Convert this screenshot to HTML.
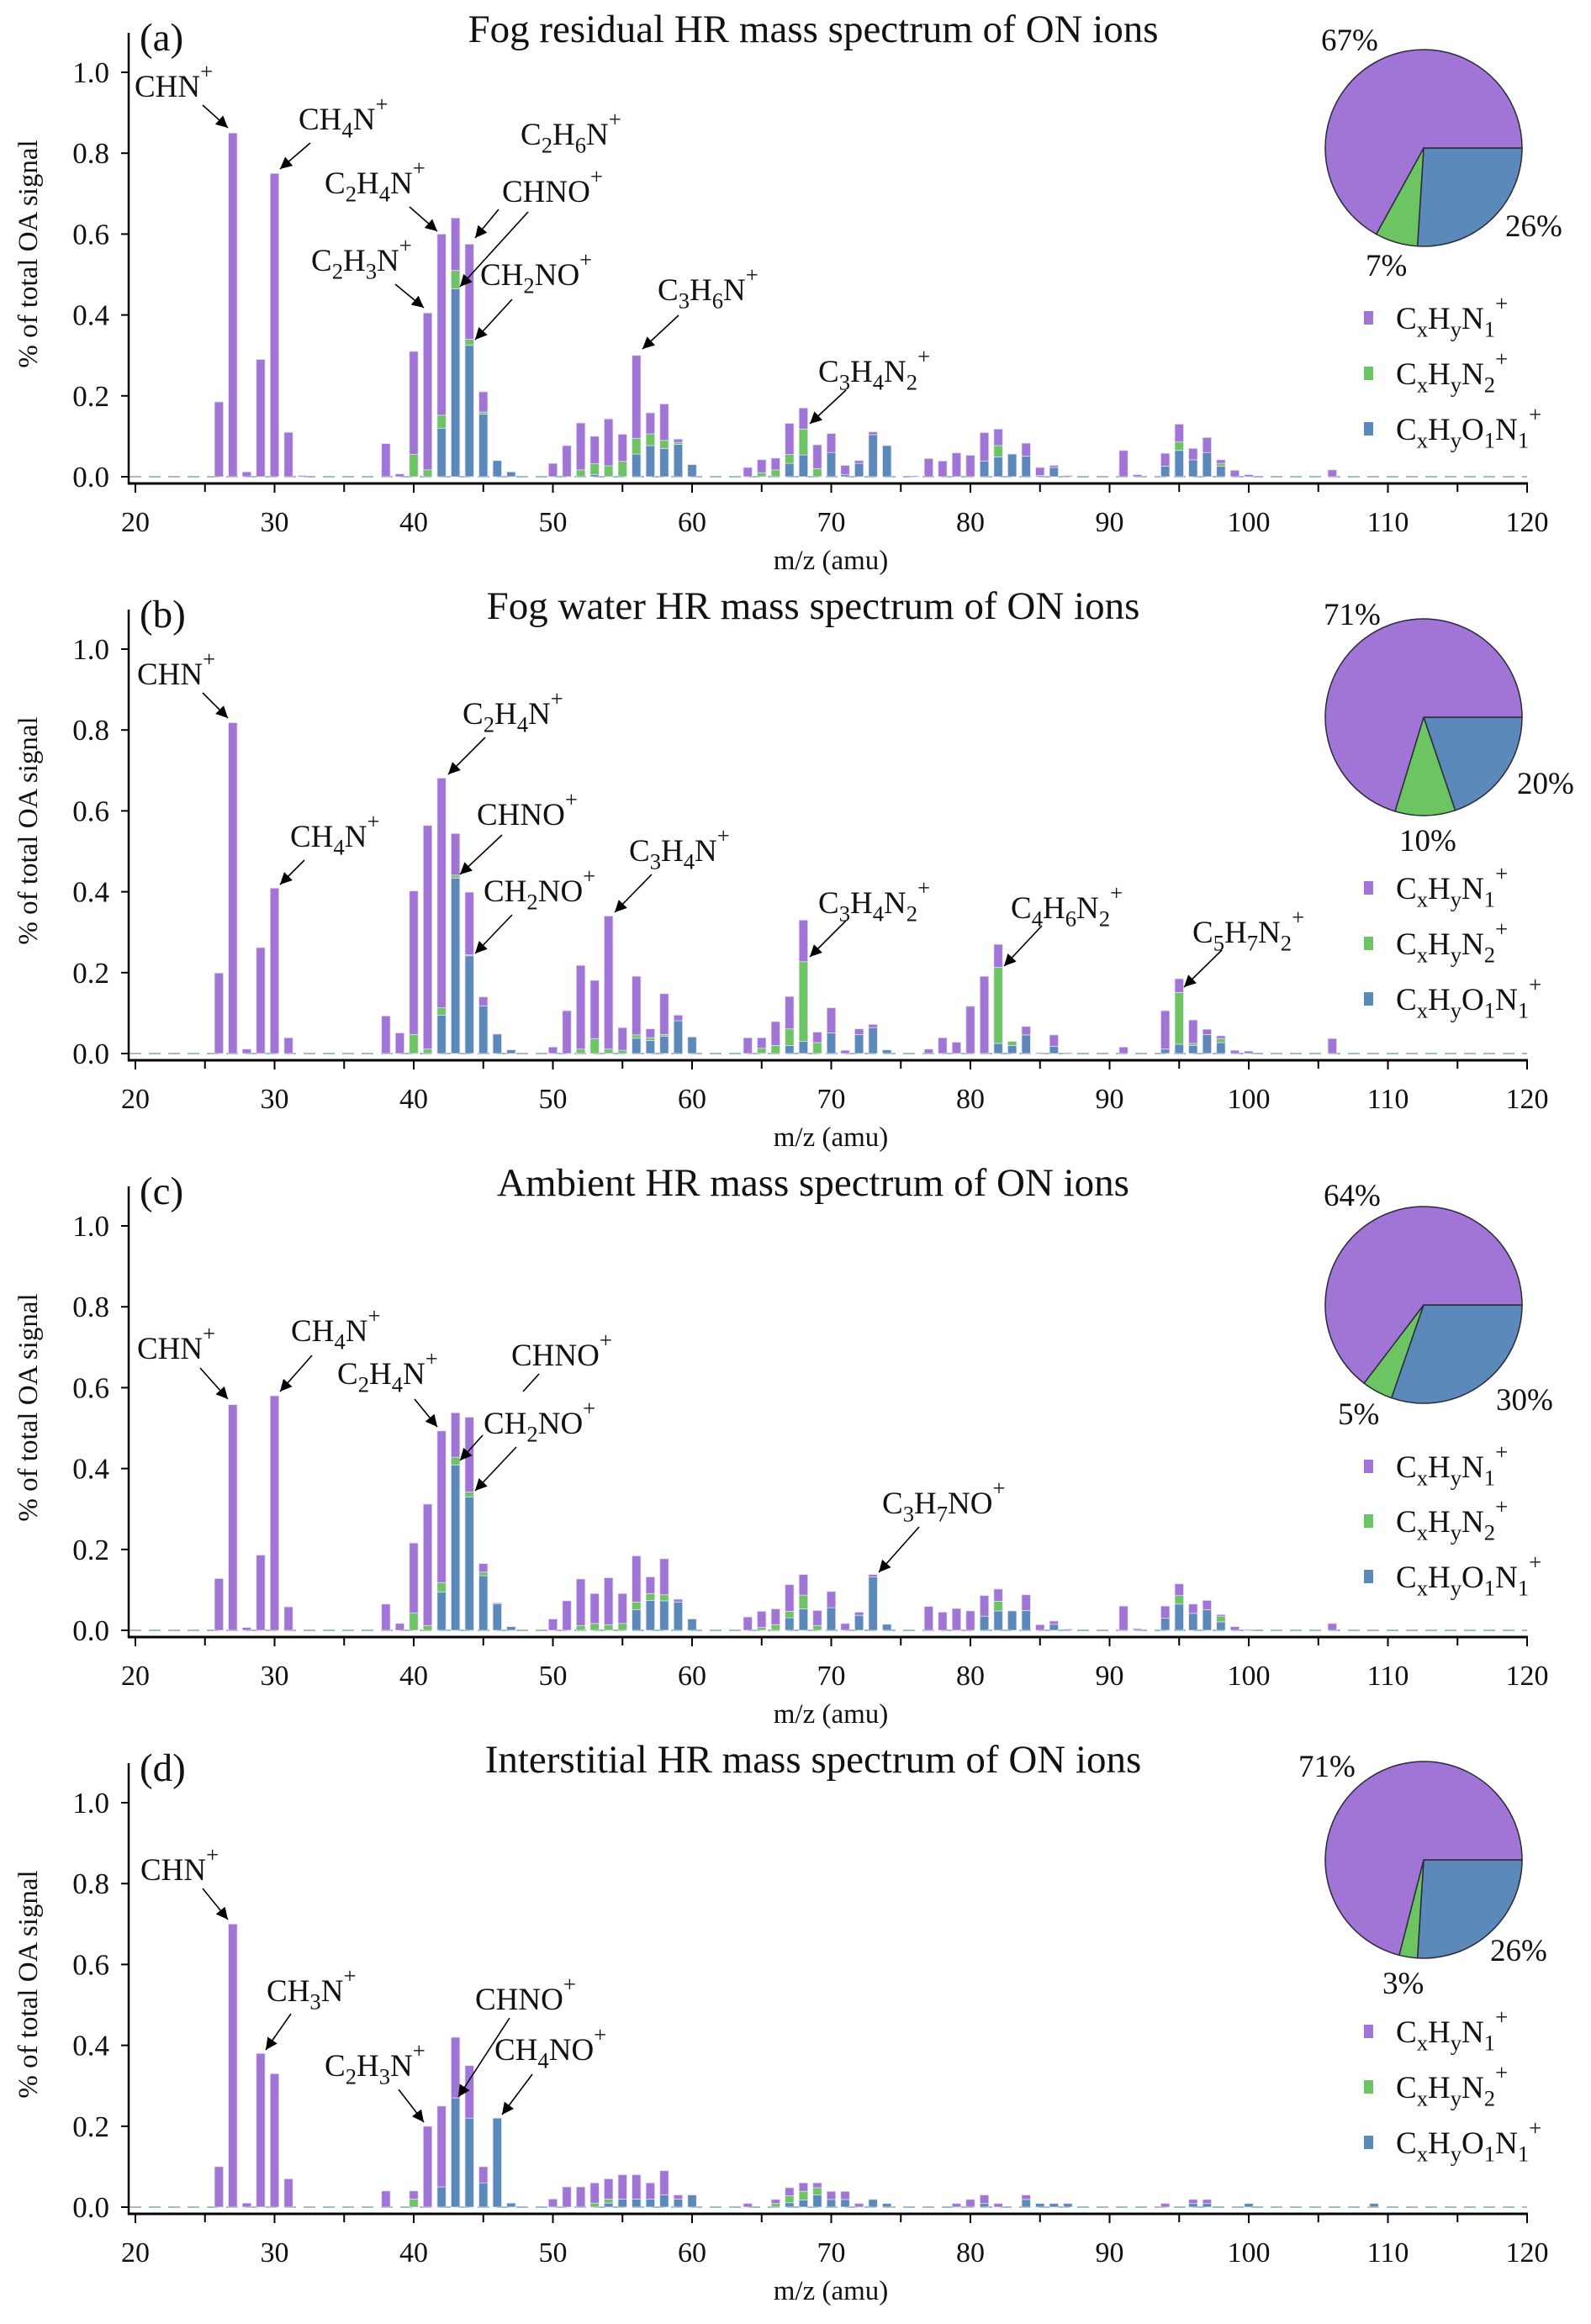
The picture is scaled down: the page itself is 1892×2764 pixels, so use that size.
<!DOCTYPE html>
<html><head><meta charset="utf-8"><title>ON ions HR mass spectra</title>
<style>
html,body{margin:0;padding:0;background:#fff;}
svg{display:block;font-family:"Liberation Serif","DejaVu Serif",serif;}
</style></head>
<body>
<svg id="chart" xmlns="http://www.w3.org/2000/svg" width="1892" height="2764" viewBox="0 0 1892 2764">
<rect x="0" y="0" width="1892" height="2764" fill="#fff"/>
</svg>
<script>
// ---------- DATA ----------
const panelLetters = ["(a)","(b)","(c)","(d)"];
const panelTitles = ["Fog residual HR mass spectrum of ON ions","Fog water HR mass spectrum of ON ions","Ambient HR mass spectrum of ON ions","Interstitial HR mass spectrum of ON ions"];
const xTicks = [20,30,40,50,60,70,80,90,100,110,120];
const xMinorTicks = [25,35,45,55,65,75,85,95,105,115];
const yTicks = [0,0.2,0.4,0.6,0.8,1.0];
const yTickLabels = ["0.0","0.2","0.4","0.6","0.8","1.0"];

// panel (a) Fog residual
const mzA =     [26,27,28,29,30,31,32,38,39,40,41,42,43,44,45,46,47,50,51,52,53,54,55,56,57,58,59,60,64,65,66,67,68,69,70,71,72,73,74,76,77,78,79,80,81,82,83,84,85,86,87,91,92,94,95,96,97,98,99,100,106];
const blueA =   [0,0,0,0,0,0,0,0,0,0,0,.12,.465,.325,.155,.04,.012,0,0,0,.005,0,0,.056,.077,.07,.08,.03,0,0,0,.033,.054,0,.06,.005,.033,.104,.077,0,0,0,0,0,.039,.049,.056,.051,.003,.023,0,0,0,.026,.065,.042,.06,.026,0,0,0];
const greenA =  [0,0,0,0,0,0,0,0,0,.055,.017,.032,.045,.015,.005,0,0,0,0,.017,.027,.027,.038,.039,.029,.02,.005,0,0,.01,.017,.022,.064,.02,0,0,0,0,0,0,0,0,0,0,0,.028,0,0,0,0,0,0,0,0,.021,0,0,.007,0,0,0];
const purpleA = [.185,.85,.012,.29,.75,.11,.003,.082,.007,.255,.388,.448,.13,.235,.05,0,0,.033,.077,.116,.068,.116,.067,.205,.052,.09,.008,0,.023,.032,.029,.077,.052,.059,.047,.023,.007,.007,0,.002,.045,.039,.059,.053,.07,.041,0,.032,.02,.005,.003,.065,.005,.032,.044,.028,.037,.009,.016,.005,.017];

// panel (b) Fog water
const mzB =     [26,27,28,29,30,31,38,39,40,41,42,43,44,45,46,47,50,51,52,53,54,55,56,57,58,59,60,64,65,66,67,68,69,70,71,72,73,74,77,78,79,80,81,82,83,84,85,86,87,91,94,95,96,97,98,99,100,106];
const blueB =   [0,0,0,0,0,0,0,0,0,0,.095,.434,.242,.118,.048,.009,0,0,0,0,0,0,.038,.032,.043,.081,.041,0,0,0,.02,.03,0,.051,0,.047,.064,.009,0,0,0,0,0,.025,.02,.046,0,.018,0,0,.011,.023,.02,.047,.027,0,0,0];
const greenB =  [0,0,0,0,0,0,0,0,.047,.011,.018,.007,.002,0,0,0,0,0,.011,.037,.011,.008,.008,.007,.004,0,0,0,.013,.02,.041,.197,.027,0,0,0,0,0,0,0,0,0,0,.188,.01,0,0,0,0,0,0,.128,.005,0,.01,0,0,0];
const purpleB = [.199,.818,.011,.262,.409,.039,.093,.051,.355,.553,.568,.103,.155,.022,0,0,.016,.106,.207,.144,.329,.056,.145,.022,.101,.014,0,.039,.026,.059,.08,.103,.026,.062,.008,.014,.008,0,.011,.039,.028,.117,.191,.057,0,.021,.002,.028,.002,.016,.095,.034,.058,.013,.007,.008,.006,.037];

// panel (c) Ambient
const mzC =     [26,27,28,29,30,31,38,39,40,41,42,43,44,45,46,47,50,51,52,53,54,55,56,57,58,59,60,64,65,66,67,68,69,70,71,72,73,74,77,78,79,80,81,82,83,84,85,86,87,91,92,94,95,96,97,98,99,100,106];
const blueC =   [0,0,0,0,0,0,0,0,0,0,.095,.409,.33,.135,.067,.009,0,0,0,0,0,0,.051,.074,.073,.07,.028,0,0,0,.031,.053,0,.056,0,.037,.132,.015,0,0,0,0,.035,.048,.048,.049,0,.015,0,0,0,.03,.065,.042,.051,.021,0,0,0];
const greenC =  [0,0,0,0,0,0,0,0,.043,.012,.023,.019,.012,.009,0,0,0,0,.012,.017,.014,.017,.019,.017,.015,0,0,0,.007,.014,.016,.034,.012,0,0,0,0,0,0,0,0,0,0,.024,0,0,0,0,0,0,0,0,.021,0,0,.014,0,0,0];
const purpleC = [.128,.558,.007,.186,.58,.058,.065,.017,.173,.3,.375,.11,.185,.021,.001,0,.028,.073,.115,.074,.116,.074,.114,.041,.089,.007,0,.033,.04,.039,.066,.051,.037,.04,.017,.008,.006,0,.059,.045,.054,.048,.051,.03,0,.039,.014,.008,.003,.06,.004,.03,.029,.023,.023,.004,.009,.002,.017];

// panel (d) Interstitial
const mzD =     [26,27,28,29,30,31,38,40,41,42,43,44,45,46,47,50,51,52,53,54,55,56,57,58,59,60,64,66,67,68,69,70,71,72,73,74,79,80,81,82,84,85,86,87,94,96,97,100,109];
const blueD =   [0,0,0,0,0,0,0,0,0,.05,.27,.22,.06,.22,.01,0,0,0,0,.01,.02,.02,.02,.03,.02,.03,0,0,.011,.018,.03,.019,.019,0,.019,.009,0,0,.009,0,.019,.009,.009,.009,0,.009,.009,.009,.009];
const greenD =  [0,0,0,0,0,0,0,.02,0,0,0,0,0,0,0,0,0,0,.01,.01,0,0,0,0,0,0,0,.009,.017,.021,.018,0,0,0,0,0,0,0,0,0,0,0,0,0,0,0,0,0,0];
const purpleD = [.1,.7,.01,.38,.33,.07,.04,.02,.2,.2,.15,.13,.04,0,0,.02,.05,.05,.05,.05,.06,.06,.04,.06,.01,0,.009,.01,.02,.021,.012,.02,.02,.009,0,0,.009,.019,.021,.009,.011,0,0,0,.009,.01,.01,0,0];

// pie fractions (%)
const piePurple = [67,71,64,71];
const pieGreen = [7,10,5,3];
const pieBlue = [26,20,30,26];

const mzSets = [mzA,mzB,mzC,mzD];
const blueSets = [blueA,blueB,blueC,blueD];
const greenSets = [greenA,greenB,greenC,greenD];
const purpleSets = [purpleA,purpleB,purpleC,purpleD];

// ---------- LAYOUT ----------
const NS = "http://www.w3.org/2000/svg";
const svg = document.getElementById("chart");
const COL = {purple:"#A075D5", green:"#6CC462", blue:"#5B89B9"};
const panelOffsets = [0,686,1372,2058];
const pieCY = [176,167,180,154];
const pieLabelPos = [
  [[1571,60],[1790,281],[1624,328]],
  [[1574,57],[1804,258],[1664,326]],
  [[1574,62],[1779,305],[1591,322]],
  [[1544,55],[1772,274],[1644,313]]
];
const legendRows = [[378,444,510],[370,436,502],[372,437,503],[358,424,490]];
const legendLabels = ["C_xH_yN_1^+","C_xH_yN_2^+","C_xH_yO_1N_1^+"];
const legendColors = [COL.purple,COL.green,COL.blue];
const annotations = [
  [["CHN^+",160,115,241,125,271,152,1],["CH_4N^+",355,154,369,170,333,201,1],["C_2H_4N^+",386,230,487,246,520,275,1],["C_2H_3N^+",370,322,470,338,504,366,1],["C_2H_6N^+",619,172,593,249,565,283,1],["CHNO^+",597,240,628,252,547,341,1],["CH_2NO^+",571,339,609,356,565,404,1],["C_3H_6N^+",782,357,807,375,764,415,1],["C_3H_4N_2^+",973,454,1006,464,963,504,1]],
  [["CHN^+",163,128,241,138,271,168,1],["CH_4N^+",345,321,362,337,333,366,1],["C_2H_4N^+",550,175,577,191,533,235,1],["CHNO^+",567,295,597,307,547,354,1],["CH_2NO^+",575,386,609,402,565,448,1],["C_3H_4N^+",748,338,775,354,731,399,1],["C_3H_4N_2^+",973,400,1006,409,963,452,1],["C_4H_6N_2^+",1202,406,1239,415,1194,463,1],["C_5H_7N_2^+",1418,435,1453,444,1408,488,1]],
  [["CHN^+",163,244,238,255,271,292,1],["CH_4N^+",346,223,371,240,333,283,1],["C_2H_4N^+",401,274,493,292,520,325,1],["CHNO^+",608,252,641,262,622,283,0],["CH_2NO^+",575,333,574,335,547,365,1],["",0,0,614,349,565,401,1],["C_3H_7NO^+",1049,428,1093,444,1045,498,1]],
  [["CHN^+",167,178,241,188,271,225,1],["CH_3N^+",317,322,346,337,316,380,1],["C_2H_3N^+",386,411,474,427,504,466,1],["CHNO^+",565,332,606,342,545,436,1],["CH_4NO^+",588,392,633,409,597,457,1]]
];

const X = m => 161 + (m - 20) * 16.55;
const Y = (v, off) => off + 567 - v * 481;
const BW = 10.4;

function mk(tag, attrs, parent){
  const e = document.createElementNS(NS, tag);
  for (const k in attrs) e.setAttribute(k, attrs[k]);
  (parent || svg).appendChild(e);
  return e;
}
function richText(parent, str, x, y, fs, anchor){
  const t = mk("text", {x:x, y:y, "font-size":fs, fill:"#111"}, parent);
  if (anchor) t.setAttribute("text-anchor", anchor);
  let i = 0, shift = 0;
  while (i < str.length){
    const c = str[i];
    if (c === "_" || c === "^"){
      const target = c === "_" ? fs*0.26 : -fs*0.58;
      const ts = mk("tspan", {dy:(target - shift), "font-size":(fs*0.72)}, t);
      ts.textContent = str[i+1];
      shift = target; i += 2;
    } else {
      let j = i; while (j < str.length && str[j] !== "_" && str[j] !== "^") j++;
      const ts = mk("tspan", {dy:(-shift)}, t);
      ts.textContent = str.slice(i, j);
      shift = 0; i = j;
    }
  }
  return t;
}

mk("defs", {}).innerHTML = '<marker id="ah" viewBox="0 0 10 10" refX="10" refY="5" markerWidth="9" markerHeight="9" orient="auto" markerUnits="userSpaceOnUse"><path d="M0,0 L10,5 L0,10 z" fill="#000"/></marker>';
svg.querySelector("marker").setAttribute("markerWidth","18");
svg.querySelector("marker").setAttribute("markerHeight","14");

for (let p = 0; p < 4; p++){
  const off = panelOffsets[p];
  const g = mk("g", {});
  
  

  // title & letter
  const title = mk("text", {x:967, y:off+50, "font-size":47, "text-anchor":"middle", fill:"#111"}, g);
  title.textContent = panelTitles[p];
  
  
  const letter = mk("text", {x:166, y:off+60, "font-size":47, fill:"#111"}, g);
  letter.textContent = panelLetters[p];
  
  

  // zero baseline dashed
  const zl = mk("line", {x1:154, x2:1816, y1:Y(0,off), y2:Y(0,off), stroke:"#9dbdc8", "stroke-width":2, "stroke-dasharray":"14,9"}, g);
  
  

  // bars
  const mzs = mzSets[p], bl = blueSets[p], gr = greenSets[p], pu = purpleSets[p];
  for (let i = 0; i < mzs.length; i++){
    const segs = [[bl[i],COL.blue,"blue"],[gr[i],COL.green,"green"],[pu[i],COL.purple,"purple"]];
    let base = 0;
    for (const s of segs){
      if (s[0] <= 0) continue;
      const y0 = Y(base, off), y1 = Y(base + s[0], off);
      const r = mk("rect", {x:X(mzs[i]) - BW/2, y:y1, width:BW, height:Math.max(y0 - y1, 1.2), fill:s[1], stroke:"#e4dcf2", "stroke-width":0.8}, g);
      
      
      base += s[0];
    }
  }

  // axes
  const ya = mk("line", {x1:153, x2:153, y1:off+39, y2:off+576, stroke:"#000", "stroke-width":2.5}, g);
  
  
  const xa = mk("line", {x1:152, x2:1817, y1:off+575, y2:off+575, stroke:"#000", "stroke-width":3}, g);
  
  
  for (let k = 0; k < yTicks.length; k++){
    const yy = Y(yTicks[k], off);
    mk("line", {x1:144, x2:153, y1:yy, y2:yy, stroke:"#000", "stroke-width":2}, g);
    const tl = mk("text", {x:130, y:yy+12, "font-size":35, "text-anchor":"end", fill:"#111"}, g);
    tl.textContent = yTickLabels[k];
    
    
  }
  for (const t of xTicks){
    mk("line", {x1:X(t), x2:X(t), y1:off+575, y2:off+586, stroke:"#000", "stroke-width":2}, g);
    const tl = mk("text", {x:X(t), y:off+632, "font-size":34, "text-anchor":"middle", fill:"#111"}, g);
    tl.textContent = t;
    
    
  }
  for (const t of xMinorTicks){
    mk("line", {x1:X(t), x2:X(t), y1:off+575, y2:off+585, stroke:"#000", "stroke-width":2}, g);
  }
  const xt = mk("text", {x:988, y:off+677, "font-size":33, "text-anchor":"middle", fill:"#111"}, g);
  xt.textContent = "m/z (amu)";
  
  
  const yt = mk("text", {x:0, y:0, "font-size":33, "text-anchor":"middle", fill:"#111", transform:"translate(44," + (off+302) + ") rotate(-90)"}, g);
  yt.textContent = "% of total OA signal";
  
  

  // annotations
  for (const a of annotations[p]){
    if (a[0]){
      const lt = richText(g, a[0], a[1], off + a[2], 37);
      
      
    }
    const ln = mk("line", {x1:a[3], y1:off+a[4], x2:a[5], y2:off+a[6], stroke:"#000", "stroke-width":1.6}, g);
    if (a[7]) ln.setAttribute("marker-end", "url(#ah)");
    
    
  }

  // pie
  const cx = 1693, cy = off + pieCY[p], R = 117;
  const fr = [[pieBlue[p],COL.blue,"blue"],[pieGreen[p],COL.green,"green"],[piePurple[p],COL.purple,"purple"]];
  const tot = pieBlue[p] + pieGreen[p] + piePurple[p];
  let ang = 0;
  for (const f of fr){
    const a0 = ang, a1 = ang + f[0] / tot * 2 * Math.PI;
    const large = (a1 - a0) > Math.PI ? 1 : 0;
    const d = "M" + cx + "," + cy + " L" + (cx + R*Math.cos(a0)) + "," + (cy + R*Math.sin(a0)) +
      " A" + R + "," + R + " 0 " + large + " 1 " + (cx + R*Math.cos(a1)) + "," + (cy + R*Math.sin(a1)) + " Z";
    const sl = mk("path", {d:d, fill:f[1], stroke:"#2a2a3a", "stroke-width":1.5}, g);
    
    
    ang = a1;
  }
  const pctVals = [piePurple[p], pieBlue[p], pieGreen[p]];
  for (let k = 0; k < 3; k++){
    const pl = mk("text", {x:pieLabelPos[p][k][0], y:off + pieLabelPos[p][k][1], "font-size":37, fill:"#111"}, g);
    pl.textContent = pctVals[k] + "%";
    
    
  }

  // legend
  for (let k = 0; k < 3; k++){
    const ry = off + legendRows[p][k];
    const sq = mk("rect", {x:1622, y:ry - 8, width:11, height:16, fill:legendColors[k]}, g);
    
    
    const lt = richText(g, legendLabels[k], 1660, ry + 13, 37);
    
    
  }
}
</script>
</body></html>
